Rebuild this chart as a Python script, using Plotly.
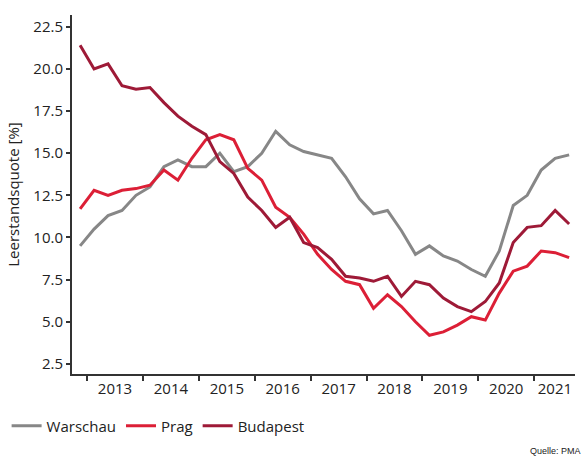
import plotly.graph_objects as go

# Quarters Q4 2012 .. Q3 2021
quarters = [f"Q{q} {y}" for y in range(2012, 2022) for q in range(1, 5)][3:39]

warschau = [9.5, 10.5, 11.3, 11.6, 12.5, 13.0, 14.2, 14.6, 14.2, 14.2, 15.0, 13.9,
            14.2, 15.0, 16.3, 15.5, 15.1, 14.9, 14.7, 13.6, 12.3, 11.4, 11.6, 10.4,
            9.0, 9.5, 8.9, 8.6, 8.1, 7.7, 9.2, 11.9, 12.5, 14.0, 14.7, 14.9]
prag = [11.7, 12.8, 12.5, 12.8, 12.9, 13.1, 14.0, 13.4, 14.7, 15.8, 16.1, 15.8,
        14.1, 13.4, 11.8, 11.2, 10.2, 9.0, 8.1, 7.4, 7.2, 5.8, 6.6, 5.9,
        5.0, 4.2, 4.4, 4.8, 5.3, 5.1, 6.7, 8.0, 8.3, 9.2, 9.1, 8.8]
budapest = [21.4, 20.0, 20.3, 19.0, 18.8, 18.9, 18.0, 17.2, 16.6, 16.1, 14.5, 13.8,
            12.4, 11.6, 10.6, 11.2, 9.7, 9.4, 8.7, 7.7, 7.6, 7.4, 7.7, 6.5,
            7.4, 7.2, 6.4, 5.9, 5.6, 6.2, 7.3, 9.7, 10.6, 10.7, 11.6, 10.8]

year_labels = ["2013", "2014", "2015", "2016", "2017", "2018", "2019", "2020", "2021"]
label_pos = [2013.5, 2014.5, 2015.5, 2016.5, 2017.5, 2018.5, 2019.5, 2020.5, 2021.37]
year_starts = [2013, 2014, 2015, 2016, 2017, 2018, 2019, 2020, 2021]
y_ticks = [2.5, 5.0, 7.5, 10.0, 12.5, 15.0, 17.5, 20.0, 22.5]

def qx(label):
    q, y = label.split()
    return int(y) + (int(q[1]) - 1) * 0.25 + 0.125

x = [qx(q) for q in quarters]

FONT = "Open Sans"
fig = go.Figure()
for name, vals, col in [("Warschau", warschau, "#878787"),
                        ("Prag", prag, "#dc1f36"),
                        ("Budapest", budapest, "#9e1a37")]:
    fig.add_trace(go.Scatter(x=x, y=vals, name=name, mode="lines",
                             line=dict(color=col, width=3)))

fig.update_layout(
    width=587, height=457,
    margin=dict(l=72, r=12, t=15, b=83, autoexpand=False),
    plot_bgcolor="white", paper_bgcolor="white",
    font=dict(family=FONT, size=15, color="#222222"),
    showlegend=True,
    legend=dict(orientation="h", x=-0.13, y=-0.145, xanchor="left", yanchor="middle",
                font=dict(family=FONT, size=15, color="#222222"),
                itemwidth=30, tracegroupgap=0, bgcolor="rgba(0,0,0,0)"),
    xaxis=dict(range=[2012.73, 2021.73], showgrid=False, zeroline=False,
               showline=True, linecolor="#333333", linewidth=2, automargin=False,
               tickmode="array", tickvals=label_pos, ticktext=year_labels,
               ticks="", tickfont=dict(size=15),
               minor=dict(tickmode="array", tickvals=year_starts, ticks="outside",
                          ticklen=5, tickwidth=1.5, tickcolor="#333333", showgrid=False)),
    yaxis=dict(range=[1.9, 23.2], showgrid=False, zeroline=False,
               showline=True, linecolor="#333333", linewidth=2, automargin=False,
               tickmode="array", tickvals=y_ticks, tickformat=".1f",
               ticks="outside", ticklen=4, tickwidth=1.5, tickcolor="#333333",
               tickfont=dict(size=15),
               title=dict(text="Leerstandsquote [%]", font=dict(size=15), standoff=10)),
    annotations=[dict(text="Quelle: PMA", xref="paper", yref="paper",
                      x=1.015, y=-0.214, xanchor="right", yanchor="middle", showarrow=False,
                      font=dict(family="Liberation Sans", size=9, color="#222222"))],
)

fig.write_html("out.html", config={"displayModeBar": False},
               post_script="document.body.style.margin='0';")
